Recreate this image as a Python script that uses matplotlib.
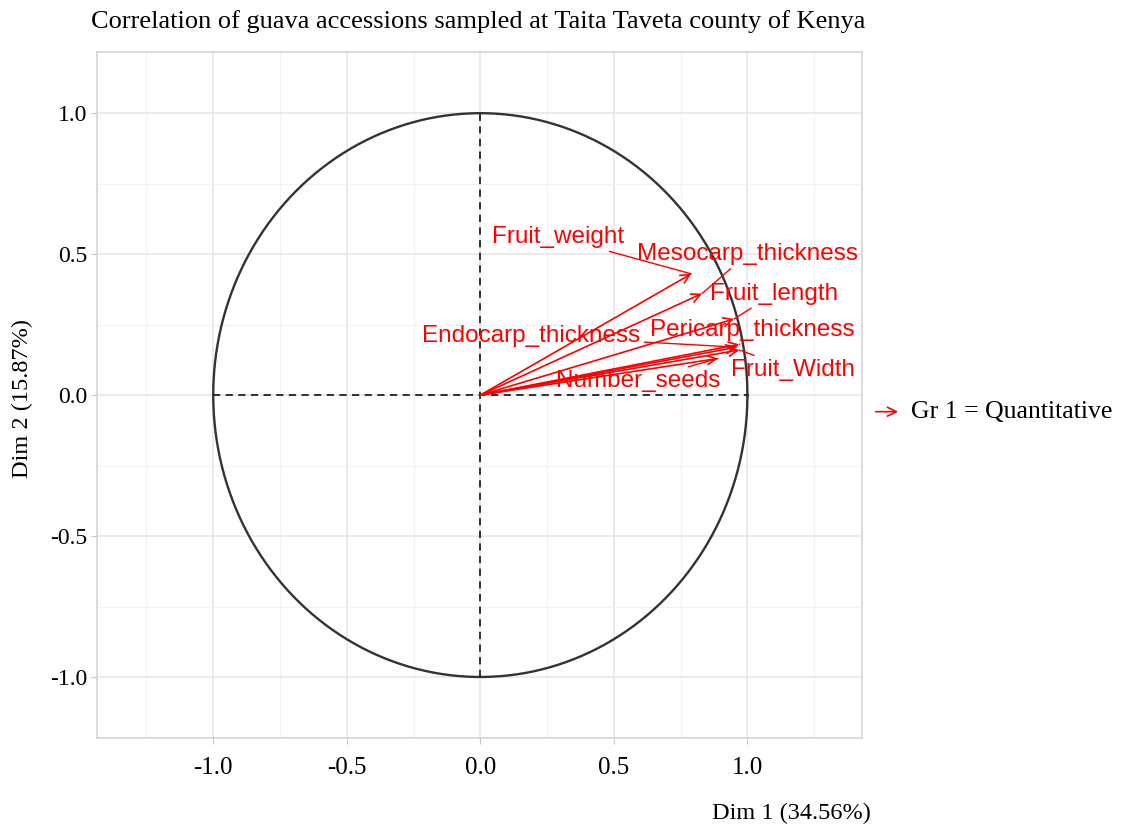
import numpy as np
import matplotlib
matplotlib.use("Agg")
import matplotlib.pyplot as plt

# variable coordinates on the first two dimensions
variables = ["Fruit_weight", "Mesocarp_thickness", "Fruit_length", "Pericarp_thickness",
             "Endocarp_thickness", "Fruit_Width", "Number_seeds"]
dim1 = [0.79, 0.83, 0.95, 0.97, 0.96, 0.97, 0.89]
dim2 = [0.43, 0.36, 0.27, 0.18, 0.17, 0.16, 0.13]

# where the repelled labels sit
label_x = [0.29, 1.00, 1.10, 1.02, 0.19, 1.17, 0.59]
label_y = [0.56, 0.50, 0.36, 0.23, 0.21, 0.09, 0.05]

ticks = [-1.0, -0.5, 0.0, 0.5, 1.0]
tick_labels = ["-1.0", "-0.5", "0.0", "0.5", "1.0"]

serif = "Liberation Serif"
sans = "Liberation Sans"
red = "#ff0000"

fig = plt.figure(figsize=(11.22, 8.30), dpi=100)
ax = fig.add_axes([0.0865, 0.111, 0.682, 0.826])
ax.set_xlim(-1.435, 1.43)
ax.set_ylim(-1.216, 1.216)

# grid
ax.set_xticks(ticks)
ax.set_yticks(ticks)
ax.set_xticks([-1.25, -0.75, -0.25, 0.25, 0.75, 1.25], minor=True)
ax.set_yticks([-0.75, -0.25, 0.25, 0.75], minor=True)
ax.grid(True, which="major", color="#e6e6e6", lw=1.1)
ax.grid(True, which="minor", color="#f2f2f2", lw=0.8)
ax.set_axisbelow(True)
for s in ax.spines.values():
    s.set_color("#d4d4d4")
    s.set_linewidth(1.2)
ax.tick_params(which="major", length=4, color="#c8c8c8")
ax.tick_params(axis="x", pad=10)
ax.tick_params(axis="y", pad=3)
ax.tick_params(which="minor", length=0)
ax.set_xticklabels(tick_labels, family=serif, fontsize=18)
ax.set_yticklabels(tick_labels, family=serif, fontsize=17)

# unit circle and axes lines
t = np.linspace(0, 2 * np.pi, 400)
ax.plot(np.cos(t), np.sin(t), color="#333333", lw=1.7)
ax.plot([-1, 1], [0, 0], color="#222222", lw=1.3, ls=(0, (4, 3)))
ax.plot([0, 0], [-1, 1], color="#222222", lw=1.3, ls=(0, (4, 3)))

# arrows
for x, y in zip(dim1, dim2):
    ax.annotate("", xy=(x, y), xytext=(0, 0),
                arrowprops=dict(arrowstyle="->", color=red, lw=1.2,
                                shrinkA=0, shrinkB=0, mutation_scale=16))

# labels with connector segments
for name, x, y, lx, ly in zip(variables, dim1, dim2, label_x, label_y):
    ax.annotate(name, xy=(x, y), xytext=(lx, ly), ha="center", va="center",
                color=red, family=sans, fontsize=17.5,
                arrowprops=dict(arrowstyle="-", color=red, lw=1.0,
                                shrinkA=1, shrinkB=0))

fig.text(0.426, 0.9735, "Correlation of guava accessions sampled at Taita Taveta county of Kenya",
         ha="center", va="center", family=serif, fontsize=19)
fig.text(0.705, 0.02, "Dim 1 (34.56%)", ha="center", va="center",
         family=serif, fontsize=17.5)
fig.text(0.02, 0.52, "Dim 2 (15.87%)", ha="center", va="center",
         rotation=90, family=serif, fontsize=17.5)

# legend
fig.add_artist(matplotlib.patches.FancyArrowPatch(
    (0.778, 0.504), (0.803, 0.504), transform=fig.transFigure,
    arrowstyle="->", color=red, lw=1.2, mutation_scale=16))
fig.text(0.812, 0.504, "Gr 1 = Quantitative", ha="left", va="center",
         family=serif, fontsize=18.5)

fig.savefig("out.png", dpi=100)
